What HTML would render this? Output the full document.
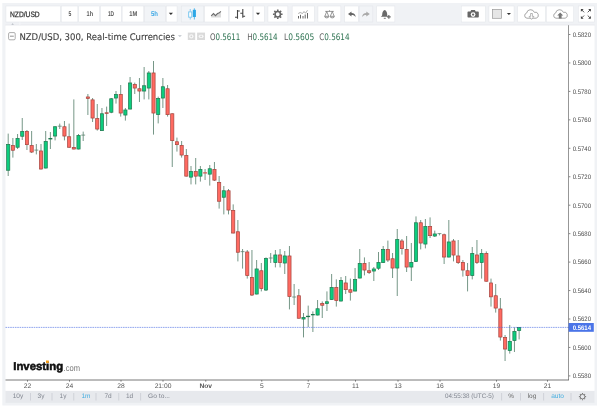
<!DOCTYPE html>
<html lang="en"><head><meta charset="utf-8"><title>NZD/USD chart</title>
<style>
html,body{margin:0;padding:0;background:#fff;}
body{width:600px;height:409px;overflow:hidden;font-family:'Liberation Sans', sans-serif;}
svg{display:block;}
text{white-space:pre;text-rendering:geometricPrecision;}
</style></head><body>
<svg width="600" height="409" viewBox="0 0 600 409">
<rect x="2.30" y="3.00" width="594.70" height="402.50" fill="#f0f2f5" />
<rect x="5.50" y="390.80" width="589.00" height="12.00" fill="#e7e9ed" />
<path d="M5.5 25.1H594.5" stroke="#e2e5e9" stroke-width="0.8"/>
<rect x="5.50" y="25.50" width="589.00" height="365.30" fill="#ffffff" />
<rect x="5.95" y="6.0" width="54.40" height="16.0" fill="#ffffff" stroke="#e3e6ea" stroke-width="0.55"/>
<rect x="61.25" y="6.0" width="16.60" height="16.0" fill="#ffffff" stroke="#e3e6ea" stroke-width="0.55"/>
<rect x="78.75" y="6.0" width="20.80" height="16.0" fill="#ffffff" stroke="#e3e6ea" stroke-width="0.55"/>
<rect x="100.45" y="6.0" width="20.80" height="16.0" fill="#ffffff" stroke="#e3e6ea" stroke-width="0.55"/>
<rect x="122.15" y="6.0" width="21.60" height="16.0" fill="#ffffff" stroke="#e3e6ea" stroke-width="0.55"/>
<rect x="144.65" y="6.0" width="20.70" height="16.0" fill="#f2f4f7" stroke="#e3e6ea" stroke-width="0.55"/>
<rect x="166.25" y="6.0" width="10.80" height="16.0" fill="#ffffff" stroke="#e3e6ea" stroke-width="0.55"/>
<rect x="181.25" y="6.0" width="22.50" height="16.0" fill="#f3f5f8" stroke="#e3e6ea" stroke-width="0.55"/>
<rect x="204.65" y="6.0" width="23.60" height="16.0" fill="#ffffff" stroke="#e3e6ea" stroke-width="0.55"/>
<rect x="229.15" y="6.0" width="23.40" height="16.0" fill="#ffffff" stroke="#e3e6ea" stroke-width="0.55"/>
<rect x="253.45" y="6.0" width="10.80" height="16.0" fill="#ffffff" stroke="#e3e6ea" stroke-width="0.55"/>
<rect x="267.95" y="6.0" width="19.90" height="16.0" fill="#ffffff" stroke="#e3e6ea" stroke-width="0.55"/>
<rect x="292.15" y="6.0" width="22.10" height="16.0" fill="#ffffff" stroke="#e3e6ea" stroke-width="0.55"/>
<rect x="317.95" y="6.0" width="22.90" height="16.0" fill="#ffffff" stroke="#e3e6ea" stroke-width="0.55"/>
<rect x="344.65" y="6.0" width="13.60" height="16.0" fill="#ffffff" stroke="#e3e6ea" stroke-width="0.55"/>
<rect x="359.15" y="6.0" width="13.70" height="16.0" fill="#f2f4f7" stroke="#e3e6ea" stroke-width="0.55"/>
<rect x="376.75" y="6.0" width="18.10" height="16.0" fill="#ffffff" stroke="#e3e6ea" stroke-width="0.55"/>
<rect x="461.25" y="6.0" width="24.20" height="16.0" fill="#ffffff" stroke="#e3e6ea" stroke-width="0.55"/>
<rect x="488.95" y="6.0" width="25.10" height="16.0" fill="#ffffff" stroke="#e3e6ea" stroke-width="0.55"/>
<rect x="517.75" y="6.0" width="27.70" height="16.0" fill="#ffffff" stroke="#e3e6ea" stroke-width="0.55"/>
<rect x="546.35" y="6.0" width="27.30" height="16.0" fill="#ffffff" stroke="#e3e6ea" stroke-width="0.55"/>
<rect x="578.35" y="6.0" width="15.90" height="16.0" fill="#ffffff" stroke="#e3e6ea" stroke-width="0.55"/>
<text x="10.00" y="16.50" font-size="7.8" fill="#333" text-anchor="start" font-family="'Liberation Sans', sans-serif" font-weight="normal" textLength="29.70" lengthAdjust="spacingAndGlyphs" stroke="#333" stroke-width="0.25">NZD/USD</text>
<text x="68.50" y="15.75" font-size="6.8" fill="#5a5a5a" text-anchor="start" font-family="'Liberation Sans', sans-serif" font-weight="bold" textLength="2.80" lengthAdjust="spacingAndGlyphs" >5</text>
<text x="86.60" y="15.75" font-size="6.8" fill="#5a5a5a" text-anchor="start" font-family="'Liberation Sans', sans-serif" font-weight="bold" textLength="6.50" lengthAdjust="spacingAndGlyphs" >1h</text>
<text x="107.90" y="15.75" font-size="6.8" fill="#5a5a5a" text-anchor="start" font-family="'Liberation Sans', sans-serif" font-weight="bold" textLength="6.20" lengthAdjust="spacingAndGlyphs" >1D</text>
<text x="129.30" y="15.75" font-size="6.8" fill="#5a5a5a" text-anchor="start" font-family="'Liberation Sans', sans-serif" font-weight="bold" textLength="8.00" lengthAdjust="spacingAndGlyphs" >1M</text>
<text x="150.90" y="15.75" font-size="6.8" fill="#3fa9e6" text-anchor="start" font-family="'Liberation Sans', sans-serif" font-weight="bold" textLength="7.00" lengthAdjust="spacingAndGlyphs" >5h</text>
<path d="M168.80 12.80h4.2l-2.1 2.2z" fill="#333"/>
<path d="M255.90 12.80h4.2l-2.1 2.2z" fill="#333"/>
<path d="M506.80 12.90h4.2l-2.1 2.2z" fill="#333"/>
<g id="icons" fill="none">
<!-- candles (selected) -->
<path d="M190.25 9V11.6M190.25 17.4V19.5" stroke="#7cc7ef" stroke-width="0.9"/>
<rect x="188.7" y="11.9" width="3.1" height="5.3" fill="#fff" stroke="#6fc2ee" stroke-width="0.9"/>
<path d="M194.35 8.3V19.5" stroke="#4ab3ea" stroke-width="0.9"/>
<rect x="192.8" y="9.8" width="3.1" height="7.2" fill="#2ba7e6"/>
<!-- area -->
<path d="M211.2 15.9L213.5 13.6L215.5 15.7L217.5 13.6L219 13.1L220.9 11.4V17.5H211.2Z" fill="#d9d9d9"/>
<path d="M211.2 15.9L213.5 13.6L215.5 15.7L217.5 13.6L219 13.1L220.9 11.4" stroke="#6a6a6a" stroke-width="1.1"/>
<!-- bars -->
<path d="M237.5 10V18.8M237.5 11H239.8M235 17.3H237.5M242.8 9V17.8M240.3 13.3H242.8M242.8 16.3H245.1" stroke="#444" stroke-width="1.1"/>
<!-- gear -->
<g transform="translate(277.75 14.25)">
<circle r="2.7" stroke="#666" stroke-width="1.6"/>
<g stroke="#666" stroke-width="1.6">
<path d="M0 -4.8V-3.2M0 4.8V3.2M-4.8 0H-3.2M4.8 0H3.2"/>
<path d="M0 -4.8V-3.2M0 4.8V3.2M-4.8 0H-3.2M4.8 0H3.2" transform="rotate(45)"/>
</g>
</g>
<!-- indicators -->
<path d="M298.5 16V18.5M300.5 14.8V18.5M303 16V18.5M305.2 14.5V18.5M307.5 13V18.5" stroke="#666" stroke-width="1"/>
<path d="M298.25 13.5L300.25 12.5L302.5 13.5L304 11.5L305.5 13.25L307.5 10.25" stroke="#999" stroke-width="0.8"/>
<!-- scales -->
<g stroke="#707070" stroke-width="0.7">
<path d="M325.2 11.4H333.8M329.5 10.3V11.4"/>
<path d="M326.75 11.5L324.8 16.3M326.75 11.5L328.7 16.3M332.25 11.5L330.3 16.3M332.25 11.5L334.2 16.3"/>
<path d="M324.7 16.3H328.8A2.05 1.6 0 0 1 324.7 16.3Z" fill="#e8e8e8"/>
<path d="M330.2 16.3H334.3A2.05 1.6 0 0 1 330.2 16.3Z" fill="#e8e8e8"/>
</g>
<!-- undo / redo -->
<path d="M348 14L351.5 11.4V13.1C354 13.1 355.6 14.6 355.6 17.2C354.8 15.6 353.6 15 351.5 15V16.5Z" fill="#666"/>
<path d="M369.8 14L366.3 11.4V13.1C363.8 13.1 362.2 14.6 362.2 17.2C363 15.6 364.2 15 366.3 15V16.5Z" fill="#aaa"/>
<!-- bell -->
<path d="M384.7 10C383.2 10.6 382.4 11.9 382.3 13.6L382.1 15.6L380.9 16.8H387.6L387.3 15.6L387.1 13.6C387 11.9 386.2 10.6 384.7 10Z" fill="#6a6a6a"/>
<path d="M383.8 18.3H385.8" stroke="#6a6a6a" stroke-width="0.9"/>
<path d="M387 16.8H390.7M388.85 14.95V18.65" stroke="#6a6a6a" stroke-width="1.2"/>
<!-- camera -->
<path d="M468.3 11.5H470.4L471.2 10.1H474.9L475.7 11.5H478A0.8 0.8 0 0 1 478.8 12.3V16.7A0.8 0.8 0 0 1 478 17.5H468.3A0.8 0.8 0 0 1 467.5 16.7V12.3A0.8 0.8 0 0 1 468.3 11.5Z" fill="#666"/>
<circle cx="473.1" cy="14.6" r="2.35" fill="#fff"/><circle cx="473.1" cy="14.6" r="1.15" fill="#6a6a6a"/>
<!-- square -->
<rect x="492.5" y="9.5" width="9.1" height="8.8" fill="#e6e6e6" stroke="#999" stroke-width="0.7"/>
<!-- cloud down -->
<path d="M527 18.2A2.6 2.6 0 0 1 526.6 13.1A4 4 0 0 1 534.3 12.3A3 3 0 0 1 536.2 18.2Z" fill="#fff" stroke="#8a8a8a" stroke-width="0.75"/>
<path d="M530.6 13.5H532.4V16.4H533.9L531.5 19.4L529.1 16.4H530.6Z" fill="#fff" stroke="#8a8a8a" stroke-width="0.6"/>
<!-- cloud up -->
<path d="M556 18.2A2.6 2.6 0 0 1 555.6 13.1A4 4 0 0 1 563.3 12.3A3 3 0 0 1 565.2 18.2Z" fill="#fff" stroke="#8a8a8a" stroke-width="0.75"/>
<path d="M560.2 12.5L563.2 15.4H561.6V18.6H558.8V15.4H557.2Z" fill="#777"/>
<!-- fullscreen -->
<g fill="#444" stroke="#444" stroke-width="0.9">
<path d="M580.9 9.1H583.6L580.9 11.8Z" stroke="none"/><path d="M581.8 10L584.1 12.3"/>
<path d="M590.9 9.1H588.2L590.9 11.8Z" stroke="none"/><path d="M590 10L587.7 12.3"/>
<path d="M580.9 18.7H583.6L580.9 16Z" stroke="none"/><path d="M581.8 17.8L584.1 15.5"/>
<path d="M590.9 18.7H588.2L590.9 16Z" stroke="none"/><path d="M590 17.8L587.7 15.5"/>
</g>
</g>

<path d="M11.3 24.9L12.6 22.9L13.9 24.9Z" fill="#c3c7ce"/>
<path d="M19.9 22.2V25.2" stroke="#f8f9fb" stroke-width="0.7"/>
<rect x="8.6" y="32.6" width="6.6" height="7.2" rx="1.2" fill="#fff" stroke="#8a8a8a" stroke-width="0.7"/>
<path d="M10 36.2h3.8" stroke="#777" stroke-width="0.8"/>
<text x="19.40" y="39.60" font-size="9.2" fill="#3e3e3e" text-anchor="start" font-family="'DejaVu Sans', 'Liberation Sans', sans-serif" font-weight="normal" textLength="155.60" lengthAdjust="spacingAndGlyphs" stroke="#3e3e3e" stroke-width="0.12">NZD/USD, 300, Real-time Currencies</text>
<path d="M177.90 35.25h4l-2.0 1.7z" fill="#bcc2c9"/>
<rect x="187.80" y="32.60" width="7.40" height="7.40" fill="#dadada" />
<circle cx="191.3" cy="36.35" r="2.2" fill="#f6f6f6"/><circle cx="191.3" cy="36.35" r="0.9" fill="#d4d4d4"/>
<rect x="197.10" y="32.60" width="7.90" height="7.40" fill="#dadada" />
<path d="M198.4 36.35L199.6 34.7H202.6L203.8 36.35L202.6 38H199.6Z" fill="#f6f6f6"/><circle cx="201.1" cy="36.35" r="0.9" fill="#d4d4d4"/>
<text x="209.9" y="39.6" font-size="9" font-family="'DejaVu Sans', 'Liberation Sans', sans-serif" textLength="30.4" lengthAdjust="spacingAndGlyphs"><tspan fill="#606060">O</tspan><tspan fill="#2e7352">0.5611</tspan></text>
<text x="247.2" y="39.6" font-size="9" font-family="'DejaVu Sans', 'Liberation Sans', sans-serif" textLength="30.4" lengthAdjust="spacingAndGlyphs"><tspan fill="#606060">H</tspan><tspan fill="#2e7352">0.5614</tspan></text>
<text x="284" y="39.6" font-size="9" font-family="'DejaVu Sans', 'Liberation Sans', sans-serif" textLength="30.4" lengthAdjust="spacingAndGlyphs"><tspan fill="#606060">L</tspan><tspan fill="#2e7352">0.5605</tspan></text>
<text x="319.2" y="39.6" font-size="9" font-family="'DejaVu Sans', 'Liberation Sans', sans-serif" textLength="30.4" lengthAdjust="spacingAndGlyphs"><tspan fill="#606060">C</tspan><tspan fill="#2e7352">0.5614</tspan></text>
<g>
<path d="M8.20 133.6V176.0" stroke="#5d8471" stroke-width="0.85"/>
<rect x="6.60" y="144.35" width="3.20" height="25.90" fill="#0ccd7e" stroke="#20764d" stroke-width="0.7"/>
<path d="M12.89 138.0V157.6" stroke="#5d8471" stroke-width="0.85"/>
<rect x="11.29" y="145.55" width="3.20" height="4.70" fill="#ff6a61" stroke="#a4443e" stroke-width="0.7"/>
<path d="M17.57 134.0V149.0" stroke="#5d8471" stroke-width="0.85"/>
<rect x="15.97" y="138.35" width="3.20" height="8.90" fill="#0ccd7e" stroke="#20764d" stroke-width="0.7"/>
<path d="M22.26 118.0V140.0" stroke="#5d8471" stroke-width="0.85"/>
<rect x="20.66" y="131.35" width="3.20" height="4.90" fill="#0ccd7e" stroke="#20764d" stroke-width="0.7"/>
<path d="M26.95 130.0V150.0" stroke="#5d8471" stroke-width="0.85"/>
<rect x="25.35" y="131.35" width="3.20" height="13.30" fill="#ff6a61" stroke="#a4443e" stroke-width="0.7"/>
<path d="M31.64 131.0V153.0" stroke="#5d8471" stroke-width="0.85"/>
<rect x="30.04" y="145.55" width="3.20" height="6.50" fill="#ff6a61" stroke="#a4443e" stroke-width="0.7"/>
<path d="M36.33 144.0V154.4" stroke="#5d8471" stroke-width="0.85"/>
<path d="M34.38 150.10h3.9" stroke="#5d8471" stroke-width="0.8"/>
<path d="M41.01 144.0V169.4" stroke="#5d8471" stroke-width="0.85"/>
<rect x="39.41" y="150.95" width="3.20" height="18.10" fill="#ff6a61" stroke="#a4443e" stroke-width="0.7"/>
<path d="M45.70 131.0V168.4" stroke="#5d8471" stroke-width="0.85"/>
<rect x="44.10" y="141.35" width="3.20" height="26.70" fill="#0ccd7e" stroke="#20764d" stroke-width="0.7"/>
<path d="M50.39 132.0V149.0" stroke="#5d8471" stroke-width="0.85"/>
<rect x="48.79" y="138.35" width="3.20" height="0.70" fill="#0ccd7e" stroke="#20764d" stroke-width="0.7"/>
<path d="M55.08 126.0V140.4" stroke="#5d8471" stroke-width="0.85"/>
<rect x="53.48" y="126.75" width="3.20" height="9.30" fill="#0ccd7e" stroke="#20764d" stroke-width="0.7"/>
<path d="M59.76 123.6V129.0" stroke="#5d8471" stroke-width="0.85"/>
<path d="M57.81 126.20h3.9" stroke="#5d8471" stroke-width="0.8"/>
<path d="M64.45 121.0V140.4" stroke="#5d8471" stroke-width="0.85"/>
<rect x="62.85" y="126.75" width="3.20" height="9.30" fill="#ff6a61" stroke="#a4443e" stroke-width="0.7"/>
<path d="M69.14 123.6V148.0" stroke="#5d8471" stroke-width="0.85"/>
<rect x="67.54" y="136.75" width="3.20" height="10.50" fill="#ff6a61" stroke="#a4443e" stroke-width="0.7"/>
<path d="M73.83 99.4V149.4" stroke="#5d8471" stroke-width="0.85"/>
<rect x="72.22" y="147.35" width="3.20" height="1.70" fill="#ff6a61" stroke="#a4443e" stroke-width="0.7"/>
<path d="M78.51 134.0V149.4" stroke="#5d8471" stroke-width="0.85"/>
<rect x="76.91" y="135.35" width="3.20" height="13.70" fill="#0ccd7e" stroke="#20764d" stroke-width="0.7"/>
<path d="M83.20 131.6V141.0" stroke="#5d8471" stroke-width="0.85"/>
<path d="M81.25 135.10h3.9" stroke="#5d8471" stroke-width="0.8"/>
<path d="M87.89 94.0V115.0" stroke="#5d8471" stroke-width="0.85"/>
<rect x="86.29" y="96.95" width="3.20" height="1.50" fill="#ff6a61" stroke="#a4443e" stroke-width="0.7"/>
<path d="M92.58 98.0V122.0" stroke="#5d8471" stroke-width="0.85"/>
<rect x="90.97" y="99.85" width="3.20" height="18.20" fill="#ff6a61" stroke="#a4443e" stroke-width="0.7"/>
<path d="M97.26 104.0V130.6" stroke="#5d8471" stroke-width="0.85"/>
<rect x="95.66" y="118.55" width="3.20" height="10.50" fill="#ff6a61" stroke="#a4443e" stroke-width="0.7"/>
<path d="M101.95 108.0V131.0" stroke="#5d8471" stroke-width="0.85"/>
<rect x="100.35" y="113.75" width="3.20" height="16.90" fill="#0ccd7e" stroke="#20764d" stroke-width="0.7"/>
<path d="M106.64 106.6V126.0" stroke="#5d8471" stroke-width="0.85"/>
<rect x="105.04" y="112.75" width="3.20" height="0.70" fill="#ff6a61" stroke="#a4443e" stroke-width="0.7"/>
<path d="M111.33 98.0V113.2" stroke="#5d8471" stroke-width="0.85"/>
<rect x="109.72" y="98.75" width="3.20" height="13.50" fill="#0ccd7e" stroke="#20764d" stroke-width="0.7"/>
<path d="M116.01 91.0V103.6" stroke="#5d8471" stroke-width="0.85"/>
<rect x="114.41" y="94.35" width="3.20" height="3.70" fill="#0ccd7e" stroke="#20764d" stroke-width="0.7"/>
<path d="M120.70 85.0V116.6" stroke="#5d8471" stroke-width="0.85"/>
<rect x="119.10" y="94.35" width="3.20" height="18.70" fill="#ff6a61" stroke="#a4443e" stroke-width="0.7"/>
<path d="M125.39 108.0V120.6" stroke="#5d8471" stroke-width="0.85"/>
<rect x="123.79" y="109.95" width="3.20" height="5.10" fill="#0ccd7e" stroke="#20764d" stroke-width="0.7"/>
<path d="M130.07 77.0V109.4" stroke="#5d8471" stroke-width="0.85"/>
<rect x="128.47" y="82.95" width="3.20" height="26.10" fill="#0ccd7e" stroke="#20764d" stroke-width="0.7"/>
<path d="M134.76 82.6V94.0" stroke="#5d8471" stroke-width="0.85"/>
<rect x="133.16" y="84.35" width="3.20" height="3.70" fill="#ff6a61" stroke="#a4443e" stroke-width="0.7"/>
<path d="M139.45 78.0V102.0" stroke="#5d8471" stroke-width="0.85"/>
<rect x="137.85" y="88.75" width="3.20" height="2.30" fill="#ff6a61" stroke="#a4443e" stroke-width="0.7"/>
<path d="M144.14 67.0V99.4" stroke="#5d8471" stroke-width="0.85"/>
<rect x="142.54" y="85.75" width="3.20" height="5.30" fill="#0ccd7e" stroke="#20764d" stroke-width="0.7"/>
<path d="M148.82 71.0V99.4" stroke="#5d8471" stroke-width="0.85"/>
<rect x="147.22" y="72.95" width="3.20" height="15.10" fill="#0ccd7e" stroke="#20764d" stroke-width="0.7"/>
<path d="M153.51 61.0V134.6" stroke="#5d8471" stroke-width="0.85"/>
<rect x="151.91" y="72.95" width="3.20" height="40.10" fill="#ff6a61" stroke="#a4443e" stroke-width="0.7"/>
<path d="M158.20 96.6V123.4" stroke="#5d8471" stroke-width="0.85"/>
<rect x="156.60" y="98.35" width="3.20" height="16.30" fill="#0ccd7e" stroke="#20764d" stroke-width="0.7"/>
<path d="M162.89 78.0V108.0" stroke="#5d8471" stroke-width="0.85"/>
<rect x="161.29" y="86.75" width="3.20" height="11.30" fill="#0ccd7e" stroke="#20764d" stroke-width="0.7"/>
<path d="M167.57 85.0V116.6" stroke="#5d8471" stroke-width="0.85"/>
<rect x="165.97" y="88.75" width="3.20" height="25.90" fill="#ff6a61" stroke="#a4443e" stroke-width="0.7"/>
<path d="M172.26 113.4V167.0" stroke="#5d8471" stroke-width="0.85"/>
<rect x="170.66" y="113.75" width="3.20" height="26.90" fill="#ff6a61" stroke="#a4443e" stroke-width="0.7"/>
<path d="M176.95 137.6V151.6" stroke="#5d8471" stroke-width="0.85"/>
<rect x="175.35" y="141.75" width="3.20" height="2.90" fill="#ff6a61" stroke="#a4443e" stroke-width="0.7"/>
<path d="M181.64 141.0V157.6" stroke="#5d8471" stroke-width="0.85"/>
<rect x="180.04" y="145.35" width="3.20" height="9.70" fill="#ff6a61" stroke="#a4443e" stroke-width="0.7"/>
<path d="M186.32 149.0V176.5" stroke="#5d8471" stroke-width="0.85"/>
<rect x="184.72" y="155.35" width="3.20" height="20.80" fill="#ff6a61" stroke="#a4443e" stroke-width="0.7"/>
<path d="M191.01 166.0V184.4" stroke="#5d8471" stroke-width="0.85"/>
<rect x="189.41" y="171.35" width="3.20" height="5.80" fill="#0ccd7e" stroke="#20764d" stroke-width="0.7"/>
<path d="M195.70 158.0V184.4" stroke="#5d8471" stroke-width="0.85"/>
<rect x="194.10" y="171.35" width="3.20" height="4.80" fill="#ff6a61" stroke="#a4443e" stroke-width="0.7"/>
<path d="M200.39 166.0V181.6" stroke="#5d8471" stroke-width="0.85"/>
<rect x="198.79" y="169.35" width="3.20" height="6.80" fill="#0ccd7e" stroke="#20764d" stroke-width="0.7"/>
<path d="M205.07 169.0V180.0" stroke="#5d8471" stroke-width="0.85"/>
<path d="M203.12 172.90h3.9" stroke="#d4524a" stroke-width="1.2"/>
<path d="M209.76 165.0V185.6" stroke="#5d8471" stroke-width="0.85"/>
<rect x="208.16" y="168.75" width="3.20" height="5.40" fill="#0ccd7e" stroke="#20764d" stroke-width="0.7"/>
<path d="M214.45 162.0V181.0" stroke="#5d8471" stroke-width="0.85"/>
<rect x="212.85" y="169.35" width="3.20" height="10.80" fill="#ff6a61" stroke="#a4443e" stroke-width="0.7"/>
<path d="M219.14 176.0V208.6" stroke="#5d8471" stroke-width="0.85"/>
<rect x="217.54" y="182.35" width="3.20" height="18.90" fill="#ff6a61" stroke="#a4443e" stroke-width="0.7"/>
<path d="M223.82 186.0V214.4" stroke="#5d8471" stroke-width="0.85"/>
<rect x="222.22" y="190.75" width="3.20" height="6.50" fill="#0ccd7e" stroke="#20764d" stroke-width="0.7"/>
<path d="M228.51 189.0V214.4" stroke="#5d8471" stroke-width="0.85"/>
<rect x="226.91" y="190.75" width="3.20" height="19.30" fill="#ff6a61" stroke="#a4443e" stroke-width="0.7"/>
<path d="M233.20 204.4V233.4" stroke="#5d8471" stroke-width="0.85"/>
<rect x="231.60" y="210.35" width="3.20" height="22.70" fill="#ff6a61" stroke="#a4443e" stroke-width="0.7"/>
<path d="M237.89 220.0V261.4" stroke="#5d8471" stroke-width="0.85"/>
<rect x="236.29" y="231.75" width="3.20" height="20.50" fill="#ff6a61" stroke="#a4443e" stroke-width="0.7"/>
<path d="M242.57 249.0V268.6" stroke="#5d8471" stroke-width="0.85"/>
<path d="M240.62 251.65h3.9" stroke="#5d8471" stroke-width="0.8"/>
<path d="M247.26 250.0V278.6" stroke="#5d8471" stroke-width="0.85"/>
<rect x="245.66" y="251.95" width="3.20" height="23.70" fill="#ff6a61" stroke="#a4443e" stroke-width="0.7"/>
<path d="M251.95 250.0V296.0" stroke="#5d8471" stroke-width="0.85"/>
<rect x="250.35" y="277.35" width="3.20" height="17.70" fill="#ff6a61" stroke="#a4443e" stroke-width="0.7"/>
<path d="M256.64 260.0V294.4" stroke="#5d8471" stroke-width="0.85"/>
<rect x="255.04" y="268.95" width="3.20" height="25.10" fill="#0ccd7e" stroke="#20764d" stroke-width="0.7"/>
<path d="M261.32 263.0V291.4" stroke="#5d8471" stroke-width="0.85"/>
<rect x="259.73" y="270.75" width="3.20" height="17.90" fill="#ff6a61" stroke="#a4443e" stroke-width="0.7"/>
<path d="M266.01 257.4V291.0" stroke="#5d8471" stroke-width="0.85"/>
<rect x="264.41" y="258.35" width="3.20" height="31.70" fill="#0ccd7e" stroke="#20764d" stroke-width="0.7"/>
<path d="M270.70 253.0V263.0" stroke="#5d8471" stroke-width="0.85"/>
<path d="M268.75 258.00h3.9" stroke="#5d8471" stroke-width="0.8"/>
<path d="M275.39 250.0V267.4" stroke="#5d8471" stroke-width="0.85"/>
<rect x="273.79" y="254.95" width="3.20" height="7.70" fill="#0ccd7e" stroke="#20764d" stroke-width="0.7"/>
<path d="M280.07 249.0V267.4" stroke="#5d8471" stroke-width="0.85"/>
<rect x="278.48" y="254.95" width="3.20" height="7.70" fill="#ff6a61" stroke="#a4443e" stroke-width="0.7"/>
<path d="M284.76 251.0V274.0" stroke="#5d8471" stroke-width="0.85"/>
<rect x="283.16" y="255.95" width="3.20" height="7.10" fill="#0ccd7e" stroke="#20764d" stroke-width="0.7"/>
<path d="M289.45 246.0V309.4" stroke="#5d8471" stroke-width="0.85"/>
<rect x="287.85" y="255.95" width="3.20" height="40.70" fill="#ff6a61" stroke="#a4443e" stroke-width="0.7"/>
<path d="M294.14 284.0V305.0" stroke="#5d8471" stroke-width="0.85"/>
<path d="M292.19 297.00h3.9" stroke="#5d8471" stroke-width="0.8"/>
<path d="M298.82 289.0V318.6" stroke="#5d8471" stroke-width="0.85"/>
<rect x="297.23" y="295.75" width="3.20" height="22.50" fill="#ff6a61" stroke="#a4443e" stroke-width="0.7"/>
<path d="M303.51 313.0V337.4" stroke="#5d8471" stroke-width="0.85"/>
<rect x="301.91" y="317.35" width="3.20" height="1.70" fill="#0ccd7e" stroke="#20764d" stroke-width="0.7"/>
<path d="M308.20 305.6V327.0" stroke="#5d8471" stroke-width="0.85"/>
<rect x="306.60" y="316.15" width="3.20" height="0.60" fill="#0ccd7e" stroke="#20764d" stroke-width="0.7"/>
<path d="M312.89 311.4V332.0" stroke="#5d8471" stroke-width="0.85"/>
<rect x="311.29" y="314.35" width="3.20" height="0.60" fill="#0ccd7e" stroke="#20764d" stroke-width="0.7"/>
<path d="M317.57 300.0V315.4" stroke="#5d8471" stroke-width="0.85"/>
<rect x="315.98" y="308.75" width="3.20" height="6.30" fill="#0ccd7e" stroke="#20764d" stroke-width="0.7"/>
<path d="M322.26 301.4V318.0" stroke="#5d8471" stroke-width="0.85"/>
<rect x="320.66" y="303.35" width="3.20" height="1.90" fill="#ff6a61" stroke="#a4443e" stroke-width="0.7"/>
<path d="M326.95 291.4V311.0" stroke="#5d8471" stroke-width="0.85"/>
<rect x="325.35" y="301.75" width="3.20" height="1.90" fill="#0ccd7e" stroke="#20764d" stroke-width="0.7"/>
<path d="M331.64 274.0V300.0" stroke="#5d8471" stroke-width="0.85"/>
<rect x="330.04" y="287.35" width="3.20" height="12.30" fill="#0ccd7e" stroke="#20764d" stroke-width="0.7"/>
<path d="M336.32 279.4V306.6" stroke="#5d8471" stroke-width="0.85"/>
<rect x="334.73" y="287.35" width="3.20" height="13.30" fill="#ff6a61" stroke="#a4443e" stroke-width="0.7"/>
<path d="M341.01 277.0V301.4" stroke="#5d8471" stroke-width="0.85"/>
<rect x="339.41" y="280.35" width="3.20" height="20.70" fill="#0ccd7e" stroke="#20764d" stroke-width="0.7"/>
<path d="M345.70 276.0V294.0" stroke="#5d8471" stroke-width="0.85"/>
<rect x="344.10" y="282.95" width="3.20" height="6.70" fill="#ff6a61" stroke="#a4443e" stroke-width="0.7"/>
<path d="M350.39 278.6V300.6" stroke="#5d8471" stroke-width="0.85"/>
<rect x="348.79" y="289.75" width="3.20" height="2.50" fill="#ff6a61" stroke="#a4443e" stroke-width="0.7"/>
<path d="M355.07 268.0V291.4" stroke="#5d8471" stroke-width="0.85"/>
<rect x="353.48" y="279.35" width="3.20" height="11.70" fill="#0ccd7e" stroke="#20764d" stroke-width="0.7"/>
<path d="M359.76 249.0V278.4" stroke="#5d8471" stroke-width="0.85"/>
<rect x="358.16" y="263.35" width="3.20" height="14.70" fill="#0ccd7e" stroke="#20764d" stroke-width="0.7"/>
<path d="M364.45 257.4V275.4" stroke="#5d8471" stroke-width="0.85"/>
<rect x="362.85" y="263.35" width="3.20" height="6.70" fill="#ff6a61" stroke="#a4443e" stroke-width="0.7"/>
<path d="M369.14 262.0V274.0" stroke="#5d8471" stroke-width="0.85"/>
<rect x="367.54" y="270.75" width="3.20" height="1.90" fill="#ff6a61" stroke="#a4443e" stroke-width="0.7"/>
<path d="M373.82 267.0V281.0" stroke="#5d8471" stroke-width="0.85"/>
<rect x="372.23" y="268.95" width="3.20" height="2.10" fill="#0ccd7e" stroke="#20764d" stroke-width="0.7"/>
<path d="M378.51 252.0V270.0" stroke="#5d8471" stroke-width="0.85"/>
<rect x="376.91" y="262.35" width="3.20" height="5.90" fill="#0ccd7e" stroke="#20764d" stroke-width="0.7"/>
<path d="M383.20 246.0V263.0" stroke="#5d8471" stroke-width="0.85"/>
<rect x="381.60" y="249.35" width="3.20" height="13.30" fill="#0ccd7e" stroke="#20764d" stroke-width="0.7"/>
<path d="M387.89 240.6V262.0" stroke="#5d8471" stroke-width="0.85"/>
<rect x="386.29" y="249.35" width="3.20" height="10.70" fill="#ff6a61" stroke="#a4443e" stroke-width="0.7"/>
<path d="M392.57 253.0V278.0" stroke="#5d8471" stroke-width="0.85"/>
<rect x="390.98" y="258.75" width="3.20" height="9.30" fill="#ff6a61" stroke="#a4443e" stroke-width="0.7"/>
<path d="M397.26 229.0V296.0" stroke="#5d8471" stroke-width="0.85"/>
<rect x="395.66" y="239.35" width="3.20" height="28.70" fill="#0ccd7e" stroke="#20764d" stroke-width="0.7"/>
<path d="M401.95 239.0V254.6" stroke="#5d8471" stroke-width="0.85"/>
<rect x="400.35" y="240.95" width="3.20" height="7.70" fill="#ff6a61" stroke="#a4443e" stroke-width="0.7"/>
<path d="M406.64 236.0V272.0" stroke="#5d8471" stroke-width="0.85"/>
<rect x="405.04" y="249.35" width="3.20" height="17.70" fill="#ff6a61" stroke="#a4443e" stroke-width="0.7"/>
<path d="M411.32 243.0V281.0" stroke="#5d8471" stroke-width="0.85"/>
<rect x="409.73" y="262.35" width="3.20" height="4.70" fill="#0ccd7e" stroke="#20764d" stroke-width="0.7"/>
<path d="M416.01 216.4V262.0" stroke="#5d8471" stroke-width="0.85"/>
<rect x="414.41" y="222.75" width="3.20" height="38.90" fill="#0ccd7e" stroke="#20764d" stroke-width="0.7"/>
<path d="M420.70 220.0V249.4" stroke="#5d8471" stroke-width="0.85"/>
<rect x="419.10" y="222.75" width="3.20" height="20.30" fill="#ff6a61" stroke="#a4443e" stroke-width="0.7"/>
<path d="M425.39 219.0V248.4" stroke="#5d8471" stroke-width="0.85"/>
<rect x="423.79" y="226.35" width="3.20" height="17.70" fill="#0ccd7e" stroke="#20764d" stroke-width="0.7"/>
<path d="M430.07 217.4V238.0" stroke="#5d8471" stroke-width="0.85"/>
<rect x="428.48" y="226.35" width="3.20" height="9.30" fill="#ff6a61" stroke="#a4443e" stroke-width="0.7"/>
<path d="M434.76 230.6V237.0" stroke="#5d8471" stroke-width="0.85"/>
<rect x="433.16" y="233.95" width="3.20" height="2.10" fill="#0ccd7e" stroke="#20764d" stroke-width="0.7"/>
<path d="M439.45 233.3V235.4" stroke="#5d8471" stroke-width="0.85"/>
<path d="M437.50 233.60h3.9" stroke="#5d8471" stroke-width="0.8"/>
<path d="M444.14 233.6V264.0" stroke="#5d8471" stroke-width="0.85"/>
<rect x="442.54" y="234.75" width="3.20" height="22.30" fill="#ff6a61" stroke="#a4443e" stroke-width="0.7"/>
<path d="M448.82 220.0V257.4" stroke="#5d8471" stroke-width="0.85"/>
<rect x="447.23" y="241.95" width="3.20" height="15.10" fill="#0ccd7e" stroke="#20764d" stroke-width="0.7"/>
<path d="M453.51 239.0V261.4" stroke="#5d8471" stroke-width="0.85"/>
<rect x="451.91" y="240.95" width="3.20" height="14.10" fill="#ff6a61" stroke="#a4443e" stroke-width="0.7"/>
<path d="M458.20 240.0V264.0" stroke="#5d8471" stroke-width="0.85"/>
<rect x="456.60" y="255.95" width="3.20" height="6.70" fill="#ff6a61" stroke="#a4443e" stroke-width="0.7"/>
<path d="M462.89 260.0V276.6" stroke="#5d8471" stroke-width="0.85"/>
<rect x="461.29" y="262.35" width="3.20" height="7.70" fill="#ff6a61" stroke="#a4443e" stroke-width="0.7"/>
<path d="M467.57 263.0V291.4" stroke="#5d8471" stroke-width="0.85"/>
<rect x="465.98" y="270.75" width="3.20" height="4.90" fill="#ff6a61" stroke="#a4443e" stroke-width="0.7"/>
<path d="M472.26 247.0V279.4" stroke="#5d8471" stroke-width="0.85"/>
<rect x="470.66" y="253.35" width="3.20" height="22.30" fill="#0ccd7e" stroke="#20764d" stroke-width="0.7"/>
<path d="M476.95 240.0V264.0" stroke="#5d8471" stroke-width="0.85"/>
<rect x="475.35" y="254.95" width="3.20" height="7.70" fill="#ff6a61" stroke="#a4443e" stroke-width="0.7"/>
<path d="M481.64 249.0V278.6" stroke="#5d8471" stroke-width="0.85"/>
<rect x="480.04" y="253.35" width="3.20" height="9.30" fill="#0ccd7e" stroke="#20764d" stroke-width="0.7"/>
<path d="M486.32 251.4V281.6" stroke="#5d8471" stroke-width="0.85"/>
<rect x="484.73" y="253.35" width="3.20" height="27.90" fill="#ff6a61" stroke="#a4443e" stroke-width="0.7"/>
<path d="M491.01 278.6V306.6" stroke="#5d8471" stroke-width="0.85"/>
<rect x="489.41" y="282.95" width="3.20" height="13.90" fill="#ff6a61" stroke="#a4443e" stroke-width="0.7"/>
<path d="M495.70 284.0V312.6" stroke="#5d8471" stroke-width="0.85"/>
<rect x="494.10" y="295.75" width="3.20" height="12.30" fill="#ff6a61" stroke="#a4443e" stroke-width="0.7"/>
<path d="M500.39 298.0V340.6" stroke="#5d8471" stroke-width="0.85"/>
<rect x="498.79" y="308.95" width="3.20" height="28.10" fill="#ff6a61" stroke="#a4443e" stroke-width="0.7"/>
<path d="M505.07 335.0V361.0" stroke="#5d8471" stroke-width="0.85"/>
<rect x="503.48" y="337.35" width="3.20" height="11.70" fill="#ff6a61" stroke="#a4443e" stroke-width="0.7"/>
<path d="M509.76 325.0V353.6" stroke="#5d8471" stroke-width="0.85"/>
<rect x="508.16" y="341.35" width="3.20" height="9.30" fill="#0ccd7e" stroke="#20764d" stroke-width="0.7"/>
<path d="M514.45 327.4V352.0" stroke="#5d8471" stroke-width="0.85"/>
<rect x="512.85" y="331.35" width="3.20" height="9.30" fill="#0ccd7e" stroke="#20764d" stroke-width="0.7"/>
<path d="M519.14 327.0V339.4" stroke="#5d8471" stroke-width="0.85"/>
<rect x="517.54" y="327.35" width="3.20" height="3.30" fill="#0ccd7e" stroke="#20764d" stroke-width="0.7"/>
</g>
<path d="M5.5 327.4H568.8" stroke="#4468e2" stroke-width="0.6" stroke-dasharray="1.6 0.75"/>
<path d="M568.5 25.2V380" stroke="#505050" stroke-width="0.6"/>
<path d="M568.8 34.50h1.6" stroke="#555" stroke-width="0.7"/>
<text x="572.70" y="36.85" font-size="6.5" fill="#4a4a4a" text-anchor="start" font-family="'Liberation Sans', sans-serif" font-weight="normal" textLength="18.30" lengthAdjust="spacingAndGlyphs" >0.5820</text>
<path d="M568.8 62.95h1.6" stroke="#555" stroke-width="0.7"/>
<text x="572.70" y="65.30" font-size="6.5" fill="#4a4a4a" text-anchor="start" font-family="'Liberation Sans', sans-serif" font-weight="normal" textLength="18.30" lengthAdjust="spacingAndGlyphs" >0.5800</text>
<path d="M568.8 91.40h1.6" stroke="#555" stroke-width="0.7"/>
<text x="572.70" y="93.75" font-size="6.5" fill="#4a4a4a" text-anchor="start" font-family="'Liberation Sans', sans-serif" font-weight="normal" textLength="18.30" lengthAdjust="spacingAndGlyphs" >0.5780</text>
<path d="M568.8 119.85h1.6" stroke="#555" stroke-width="0.7"/>
<text x="572.70" y="122.20" font-size="6.5" fill="#4a4a4a" text-anchor="start" font-family="'Liberation Sans', sans-serif" font-weight="normal" textLength="18.30" lengthAdjust="spacingAndGlyphs" >0.5760</text>
<path d="M568.8 148.30h1.6" stroke="#555" stroke-width="0.7"/>
<text x="572.70" y="150.65" font-size="6.5" fill="#4a4a4a" text-anchor="start" font-family="'Liberation Sans', sans-serif" font-weight="normal" textLength="18.30" lengthAdjust="spacingAndGlyphs" >0.5740</text>
<path d="M568.8 176.75h1.6" stroke="#555" stroke-width="0.7"/>
<text x="572.70" y="179.10" font-size="6.5" fill="#4a4a4a" text-anchor="start" font-family="'Liberation Sans', sans-serif" font-weight="normal" textLength="18.30" lengthAdjust="spacingAndGlyphs" >0.5720</text>
<path d="M568.8 205.20h1.6" stroke="#555" stroke-width="0.7"/>
<text x="572.70" y="207.55" font-size="6.5" fill="#4a4a4a" text-anchor="start" font-family="'Liberation Sans', sans-serif" font-weight="normal" textLength="18.30" lengthAdjust="spacingAndGlyphs" >0.5700</text>
<path d="M568.8 233.65h1.6" stroke="#555" stroke-width="0.7"/>
<text x="572.70" y="236.00" font-size="6.5" fill="#4a4a4a" text-anchor="start" font-family="'Liberation Sans', sans-serif" font-weight="normal" textLength="18.30" lengthAdjust="spacingAndGlyphs" >0.5680</text>
<path d="M568.8 262.10h1.6" stroke="#555" stroke-width="0.7"/>
<text x="572.70" y="264.45" font-size="6.5" fill="#4a4a4a" text-anchor="start" font-family="'Liberation Sans', sans-serif" font-weight="normal" textLength="18.30" lengthAdjust="spacingAndGlyphs" >0.5660</text>
<path d="M568.8 290.55h1.6" stroke="#555" stroke-width="0.7"/>
<text x="572.70" y="292.90" font-size="6.5" fill="#4a4a4a" text-anchor="start" font-family="'Liberation Sans', sans-serif" font-weight="normal" textLength="18.30" lengthAdjust="spacingAndGlyphs" >0.5640</text>
<path d="M568.8 319.00h1.6" stroke="#555" stroke-width="0.7"/>
<text x="572.70" y="321.35" font-size="6.5" fill="#4a4a4a" text-anchor="start" font-family="'Liberation Sans', sans-serif" font-weight="normal" textLength="18.30" lengthAdjust="spacingAndGlyphs" >0.5620</text>
<path d="M568.8 347.45h1.6" stroke="#555" stroke-width="0.7"/>
<text x="572.70" y="349.80" font-size="6.5" fill="#4a4a4a" text-anchor="start" font-family="'Liberation Sans', sans-serif" font-weight="normal" textLength="18.30" lengthAdjust="spacingAndGlyphs" >0.5600</text>
<path d="M568.8 375.90h1.6" stroke="#555" stroke-width="0.7"/>
<text x="572.70" y="378.25" font-size="6.5" fill="#4a4a4a" text-anchor="start" font-family="'Liberation Sans', sans-serif" font-weight="normal" textLength="18.30" lengthAdjust="spacingAndGlyphs" >0.5580</text>
<rect x="568.60" y="323.00" width="25.20" height="8.80" fill="#4a74e8" />
<text x="572.70" y="329.75" font-size="6.5" fill="#fff" text-anchor="start" font-family="'Liberation Sans', sans-serif" font-weight="bold" textLength="18.30" lengthAdjust="spacingAndGlyphs" >0.5614</text>
<path d="M5.5 380H569" stroke="#555" stroke-width="0.8"/>
<path d="M27.50 380v1.7" stroke="#555" stroke-width="0.7"/>
<text x="27.50" y="388.40" font-size="6.7" fill="#555" text-anchor="middle" font-family="'Liberation Sans', sans-serif" font-weight="normal" >22</text>
<path d="M69.50 380v1.7" stroke="#555" stroke-width="0.7"/>
<text x="69.50" y="388.40" font-size="6.7" fill="#555" text-anchor="middle" font-family="'Liberation Sans', sans-serif" font-weight="normal" >24</text>
<path d="M121.00 380v1.7" stroke="#555" stroke-width="0.7"/>
<text x="121.00" y="388.40" font-size="6.7" fill="#555" text-anchor="middle" font-family="'Liberation Sans', sans-serif" font-weight="normal" >28</text>
<path d="M163.00 380v1.7" stroke="#555" stroke-width="0.7"/>
<text x="163.00" y="388.40" font-size="6.7" fill="#555" text-anchor="middle" font-family="'Liberation Sans', sans-serif" font-weight="normal" >21:00</text>
<path d="M205.75 380v1.7" stroke="#555" stroke-width="0.7"/>
<text x="205.75" y="388.40" font-size="6.7" fill="#555" text-anchor="middle" font-family="'Liberation Sans', sans-serif" font-weight="bold" >Nov</text>
<path d="M261.75 380v1.7" stroke="#555" stroke-width="0.7"/>
<text x="261.75" y="388.40" font-size="6.7" fill="#555" text-anchor="middle" font-family="'Liberation Sans', sans-serif" font-weight="normal" >5</text>
<path d="M308.25 380v1.7" stroke="#555" stroke-width="0.7"/>
<text x="308.25" y="388.40" font-size="6.7" fill="#555" text-anchor="middle" font-family="'Liberation Sans', sans-serif" font-weight="normal" >7</text>
<path d="M355.50 380v1.7" stroke="#555" stroke-width="0.7"/>
<text x="355.50" y="388.40" font-size="6.7" fill="#555" text-anchor="middle" font-family="'Liberation Sans', sans-serif" font-weight="normal" >11</text>
<path d="M398.00 380v1.7" stroke="#555" stroke-width="0.7"/>
<text x="398.00" y="388.40" font-size="6.7" fill="#555" text-anchor="middle" font-family="'Liberation Sans', sans-serif" font-weight="normal" >13</text>
<path d="M440.00 380v1.7" stroke="#555" stroke-width="0.7"/>
<text x="440.00" y="388.40" font-size="6.7" fill="#555" text-anchor="middle" font-family="'Liberation Sans', sans-serif" font-weight="normal" >16</text>
<path d="M496.50 380v1.7" stroke="#555" stroke-width="0.7"/>
<text x="496.50" y="388.40" font-size="6.7" fill="#555" text-anchor="middle" font-family="'Liberation Sans', sans-serif" font-weight="normal" >19</text>
<path d="M547.50 380v1.7" stroke="#555" stroke-width="0.7"/>
<text x="547.50" y="388.40" font-size="6.7" fill="#555" text-anchor="middle" font-family="'Liberation Sans', sans-serif" font-weight="normal" >21</text>
<text x="13.25" y="370.45" font-size="11.4" fill="#111" text-anchor="start" font-family="'Liberation Sans', sans-serif" font-weight="bold" textLength="49.90" lengthAdjust="spacingAndGlyphs" stroke="#111" stroke-width="0.55">Investing</text>
<text x="63.60" y="370.60" font-size="8.8" fill="#777" text-anchor="start" font-family="'Liberation Sans', sans-serif" font-weight="normal" textLength="16.40" lengthAdjust="spacingAndGlyphs" >.com</text>
<rect x="46.0" y="360.5" width="2.8" height="2.5" fill="#f9a01b"/>
<text x="18.00" y="398.30" font-size="6.5" fill="#80858f" text-anchor="middle" font-family="'Liberation Sans', sans-serif" font-weight="normal" >10y</text>
<text x="41.00" y="398.30" font-size="6.5" fill="#80858f" text-anchor="middle" font-family="'Liberation Sans', sans-serif" font-weight="normal" >3y</text>
<text x="63.00" y="398.30" font-size="6.5" fill="#80858f" text-anchor="middle" font-family="'Liberation Sans', sans-serif" font-weight="normal" >1y</text>
<text x="86.00" y="398.30" font-size="6.5" fill="#45aee0" text-anchor="middle" font-family="'Liberation Sans', sans-serif" font-weight="normal" >1m</text>
<text x="108.00" y="398.30" font-size="6.5" fill="#80858f" text-anchor="middle" font-family="'Liberation Sans', sans-serif" font-weight="normal" >7d</text>
<text x="129.50" y="398.30" font-size="6.5" fill="#80858f" text-anchor="middle" font-family="'Liberation Sans', sans-serif" font-weight="normal" >1d</text>
<text x="148.00" y="398.30" font-size="6.5" fill="#80858f" text-anchor="start" font-family="'Liberation Sans', sans-serif" font-weight="normal" textLength="22.00" lengthAdjust="spacingAndGlyphs" >Go to...</text>
<path d="M30.5 393v7.5" stroke="#c6c9d0" stroke-width="0.7"/>
<path d="M52 393v7.5" stroke="#c6c9d0" stroke-width="0.7"/>
<path d="M73.75 393v7.5" stroke="#c6c9d0" stroke-width="0.7"/>
<path d="M96 393v7.5" stroke="#c6c9d0" stroke-width="0.7"/>
<path d="M118.75 393v7.5" stroke="#c6c9d0" stroke-width="0.7"/>
<path d="M140.6 393v7.5" stroke="#c6c9d0" stroke-width="0.7"/>
<path d="M501.6 393v7.5" stroke="#c6c9d0" stroke-width="0.7"/>
<path d="M520.5 393v7.5" stroke="#c6c9d0" stroke-width="0.7"/>
<path d="M543.6 393v7.5" stroke="#c6c9d0" stroke-width="0.7"/>
<path d="M571 393v7.5" stroke="#c6c9d0" stroke-width="0.7"/>
<text x="445.00" y="398.30" font-size="6.5" fill="#80858f" text-anchor="start" font-family="'Liberation Sans', sans-serif" font-weight="normal" textLength="48.90" lengthAdjust="spacingAndGlyphs" >04:55:38 (UTC-5)</text>
<text x="511.00" y="398.30" font-size="6.4" fill="#666" text-anchor="middle" font-family="'Liberation Sans', sans-serif" font-weight="normal" >%</text>
<text x="532.00" y="398.30" font-size="6.5" fill="#666" text-anchor="middle" font-family="'Liberation Sans', sans-serif" font-weight="normal" >log</text>
<text x="551.20" y="398.30" font-size="6.6" fill="#45aee0" text-anchor="start" font-family="'Liberation Sans', sans-serif" font-weight="normal" textLength="12.80" lengthAdjust="spacingAndGlyphs" >auto</text>
<g transform="translate(582.5 396.6)" fill="none" stroke="#777"><circle r="2.3" stroke-width="0.9"/><g stroke-width="1.1"><path d="M0 -3.6V-2.6M0 3.6V2.6M-3.6 0H-2.6M3.6 0H2.6"/><path d="M0 -3.6V-2.6M0 3.6V2.6M-3.6 0H-2.6M3.6 0H2.6" transform="rotate(45)"/></g></g>
</svg>
</body></html>
